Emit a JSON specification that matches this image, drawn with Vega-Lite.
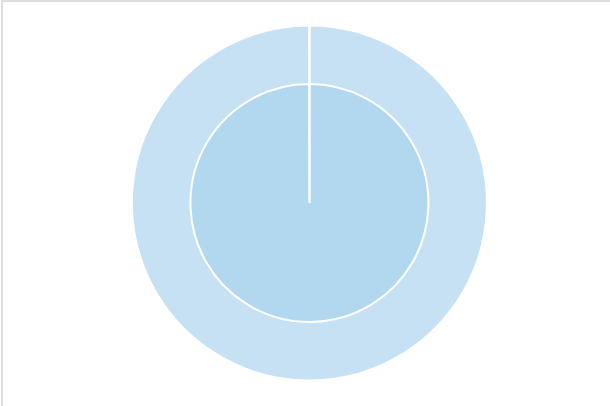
{
  "$schema": "https://vega.github.io/schema/vega-lite/v6.json",
  "autosize": {"type": "none"},
  "width": 615,
  "height": 407,
  "padding": {"left": 2, "top": 1, "right": 0, "bottom": 0},
  "view": {"stroke": "#dddddd", "strokeWidth": 2},
  "config": {"view": {"stroke": "#dddddd", "strokeWidth": 2}},
  "data": {
    "values": [
      {"ring": "outer", "part": "A", "value": 100},
      {"ring": "outer", "part": "B", "value": 0.02},
      {"ring": "inner", "part": "A", "value": 100},
      {"ring": "inner", "part": "B", "value": 0.02}
    ]
  },
  "layer": [
    {
      "transform": [{"filter": "datum.ring === 'outer'"}],
      "mark": {"type": "arc", "radius": 177.5, "stroke": "white", "strokeWidth": 2, "yOffset": -1.5},
      "encoding": {
        "theta": {"field": "value", "type": "quantitative", "stack": true},
        "order": {"field": "part", "type": "nominal"},
        "color": {"field": "ring", "type": "nominal", "scale": {"domain": ["outer", "inner"], "range": ["#c6e1f3", "#b2d8f0"]}, "legend": null}
      }
    },
    {
      "transform": [{"filter": "datum.ring === 'inner'"}],
      "mark": {"type": "arc", "radius": 119, "stroke": "white", "strokeWidth": 2, "yOffset": -1.5},
      "encoding": {
        "theta": {"field": "value", "type": "quantitative", "stack": true},
        "order": {"field": "part", "type": "nominal"},
        "color": {"field": "ring", "type": "nominal", "scale": {"domain": ["outer", "inner"], "range": ["#c6e1f3", "#b2d8f0"]}, "legend": null}
      }
    }
  ]
}
